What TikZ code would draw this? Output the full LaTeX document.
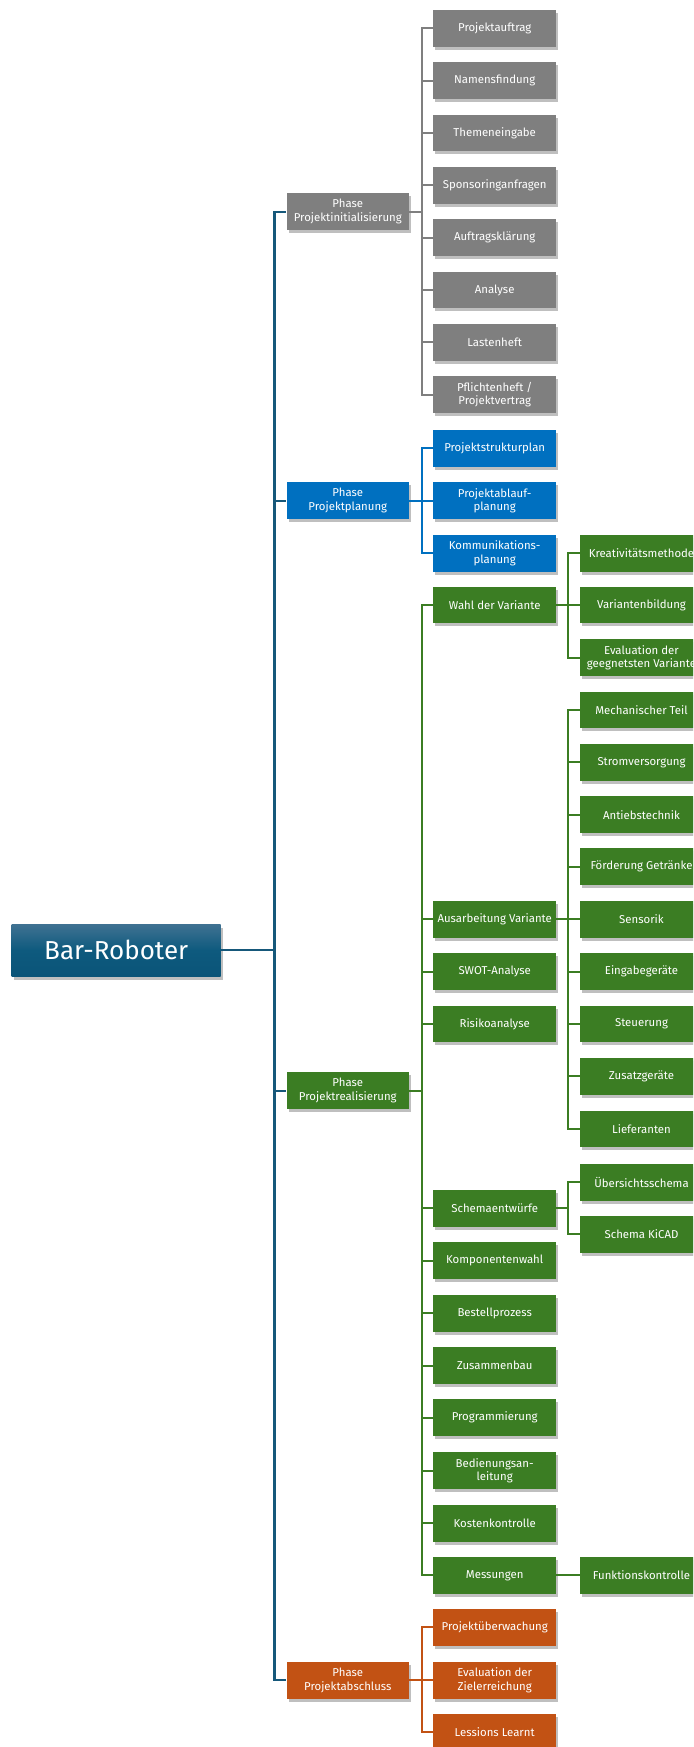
\documentclass[tikz,border=0pt]{standalone}
\usepackage{fontspec}
\setmainfont{Fira Sans}
\usetikzlibrary{shadows}

\definecolor{wbsroot}{RGB}{22,88,122}
\definecolor{wbsgray}{RGB}{127,127,127}
\definecolor{wbsblue}{RGB}{0,112,192}
\definecolor{wbsgreen}{RGB}{59,125,35}
\definecolor{wbsorange}{RGB}{194,82,20}

\begin{document}
\begin{tikzpicture}[x=1pt,y=1pt,yscale=-1,xscale=1,
  wbsbox/.style={rectangle, fill=#1, text=white, minimum width=122.5pt, minimum height=36.7pt,
    inner sep=1pt, align=center, font=\fontsize{11.4}{13.8}\selectfont,
    drop shadow={shadow xshift=2pt, shadow yshift=-3pt, opacity=0.25, fill=black}},
  wbscon/.style={draw=#1, line width=2.2pt}]
%set diagram area 693 x 1747
\path [use as bounding box] (0,0) rectangle (693,1747);
\clip (0,0) rectangle (693,1747);

% Root
\node [rectangle, top color={rgb,255:red,64;green,114;blue,146}, bottom color={rgb,255:red,10;green,84;blue,120},
  middle color={rgb,255:red,14;green,90;blue,126}, text=white, minimum width=209pt, minimum height=52pt,
  font=\fontsize{26}{30}\selectfont, drop shadow={shadow xshift=2.5pt, shadow yshift=-3.5pt, opacity=0.25, fill=black}]
  (root) at (116.2,950) {Bar-Roboter};

% Phases
\node [wbsbox=wbsgray] (pinit) at (347.8,211.7) {Phase\\Projektinitialisierung};
\node [wbsbox=wbsblue] (pplan) at (347.8,500.7) {Phase\\Projektplanung};
\node [wbsbox=wbsgreen] (preal) at (347.8,1090.7) {Phase\\Projektrealisierung};
\node [wbsbox=wbsorange] (pabsch) at (347.8,1680.3) {Phase\\Projektabschluss};

% Projektinitialisierung
\node [wbsbox=wbsgray] (auftrag) at (494.7,28.3) {Projektauftrag};
\node [wbsbox=wbsgray] (namen) at (494.7,80.7) {Namensfindung};
\node [wbsbox=wbsgray] (themen) at (494.7,133) {Themeneingabe};
\node [wbsbox=wbsgray] (sponsor) at (494.7,185.3) {Sponsoringanfragen};
\node [wbsbox=wbsgray] (klaerung) at (494.7,237.7) {Auftragsklärung};
\node [wbsbox=wbsgray] (analyse) at (494.7,290) {Analyse};
\node [wbsbox=wbsgray] (lasten) at (494.7,342.3) {Lastenheft};
\node [wbsbox=wbsgray] (pflichten) at (494.7,394.7) {Pflichtenheft /\\Projektvertrag};

% Projektplanung
\node [wbsbox=wbsblue] (psp) at (494.7,448.3) {Projektstrukturplan};
\node [wbsbox=wbsblue] (ablauf) at (494.7,500.7) {Projektablauf-\\planung};
\node [wbsbox=wbsblue] (kommun) at (494.7,553.3) {Kommunikations-\\planung};

% Projektrealisierung
\node [wbsbox=wbsgreen] (wahl) at (494.7,605) {Wahl der Variante};
\node [wbsbox=wbsgreen] (ausarb) at (494.7,919.3) {Ausarbeitung Variante};
\node [wbsbox=wbsgreen] (swot) at (494.7,971.7) {SWOT-Analyse};
\node [wbsbox=wbsgreen] (risiko) at (494.7,1024) {Risikoanalyse};
\node [wbsbox=wbsgreen] (schema) at (494.7,1208.3) {Schemaentwürfe};
\node [wbsbox=wbsgreen] (kompo) at (494.7,1260.7) {Komponentenwahl};
\node [wbsbox=wbsgreen] (bestell) at (494.7,1313.3) {Bestellprozess};
\node [wbsbox=wbsgreen] (zusammen) at (494.7,1365.7) {Zusammenbau};
\node [wbsbox=wbsgreen] (program) at (494.7,1417.7) {Programmierung};
\node [wbsbox=wbsgreen] (bedien) at (494.7,1470.7) {Bedienungsan-\\leitung};
\node [wbsbox=wbsgreen] (kosten) at (494.7,1523.3) {Kostenkontrolle};
\node [wbsbox=wbsgreen] (mess) at (494.7,1575.3) {Messungen};

% Third level
\node [wbsbox=wbsgreen] (kreativ) at (641.5,553.3) {Kreativitätsmethode};
\node [wbsbox=wbsgreen] (vbildung) at (641.5,605) {Variantenbildung};
\node [wbsbox=wbsgreen] (veval) at (641.5,657.7) {Evaluation der\\geegnetsten Variante};
\node [wbsbox=wbsgreen] (mech) at (641.5,710) {Mechanischer Teil};
\node [wbsbox=wbsgreen] (strom) at (641.5,762.3) {Stromversorgung};
\node [wbsbox=wbsgreen] (antrieb) at (641.5,814.7) {Antiebstechnik};
\node [wbsbox=wbsgreen] (foerder) at (641.5,866.7) {Förderung Getränke};
\node [wbsbox=wbsgreen] (sensor) at (641.5,919.3) {Sensorik};
\node [wbsbox=wbsgreen] (eingabe) at (641.5,971.7) {Eingabegeräte};
\node [wbsbox=wbsgreen] (steuer) at (641.5,1024) {Steuerung};
\node [wbsbox=wbsgreen] (zusatz) at (641.5,1076.3) {Zusatzgeräte};
\node [wbsbox=wbsgreen] (liefer) at (641.5,1129) {Lieferanten};
\node [wbsbox=wbsgreen] (uebersicht) at (641.5,1182.3) {Übersichtsschema};
\node [wbsbox=wbsgreen] (kicad) at (641.5,1234.3) {Schema KiCAD};
\node [wbsbox=wbsgreen] (funktion) at (641.5,1575.3) {Funktionskontrolle};

% Projektabschluss
\node [wbsbox=wbsorange] (ueberw) at (494.7,1627.3) {Projektüberwachung};
\node [wbsbox=wbsorange] (zielerr) at (494.7,1680.3) {Evaluation der\\Zielerreichung};
\node [wbsbox=wbsorange] (lessons) at (494.7,1732.3) {Lessions Learnt};

%Root lines
\draw [wbscon=wbsroot] (root.east) -- ++(53.6,0) |- (pinit.west);
\draw [wbscon=wbsroot] (root.east) -- ++(53.6,0) |- (pplan.west);
\draw [wbscon=wbsroot] (root.east) -- ++(53.6,0) |- (preal.west);
\draw [wbscon=wbsroot] (root.east) -- ++(53.6,0) |- (pabsch.west);

%Gray lines
\draw [wbscon=wbsgray] (pinit.east) -- ++(12.7,0) |- (auftrag.west);
\draw [wbscon=wbsgray] (pinit.east) -- ++(12.7,0) |- (namen.west);
\draw [wbscon=wbsgray] (pinit.east) -- ++(12.7,0) |- (themen.west);
\draw [wbscon=wbsgray] (pinit.east) -- ++(12.7,0) |- (sponsor.west);
\draw [wbscon=wbsgray] (pinit.east) -- ++(12.7,0) |- (klaerung.west);
\draw [wbscon=wbsgray] (pinit.east) -- ++(12.7,0) |- (analyse.west);
\draw [wbscon=wbsgray] (pinit.east) -- ++(12.7,0) |- (lasten.west);
\draw [wbscon=wbsgray] (pinit.east) -- ++(12.7,0) |- (pflichten.west);

%Blue lines
\draw [wbscon=wbsblue] (pplan.east) -- ++(12.7,0) |- (psp.west);
\draw [wbscon=wbsblue] (pplan.east) -- (ablauf.west);
\draw [wbscon=wbsblue] (pplan.east) -- ++(12.7,0) |- (kommun.west);

%Green lines
\draw [wbscon=wbsgreen] (preal.east) -- ++(12.7,0) |- (wahl.west);
\draw [wbscon=wbsgreen] (preal.east) -- ++(12.7,0) |- (ausarb.west);
\draw [wbscon=wbsgreen] (preal.east) -- ++(12.7,0) |- (swot.west);
\draw [wbscon=wbsgreen] (preal.east) -- ++(12.7,0) |- (risiko.west);
\draw [wbscon=wbsgreen] (preal.east) -- ++(12.7,0) |- (schema.west);
\draw [wbscon=wbsgreen] (preal.east) -- ++(12.7,0) |- (kompo.west);
\draw [wbscon=wbsgreen] (preal.east) -- ++(12.7,0) |- (bestell.west);
\draw [wbscon=wbsgreen] (preal.east) -- ++(12.7,0) |- (zusammen.west);
\draw [wbscon=wbsgreen] (preal.east) -- ++(12.7,0) |- (program.west);
\draw [wbscon=wbsgreen] (preal.east) -- ++(12.7,0) |- (bedien.west);
\draw [wbscon=wbsgreen] (preal.east) -- ++(12.7,0) |- (kosten.west);
\draw [wbscon=wbsgreen] (preal.east) -- ++(12.7,0) |- (mess.west);

\draw [wbscon=wbsgreen] (wahl.east) -- ++(11.7,0) |- (kreativ.west);
\draw [wbscon=wbsgreen] (wahl.east) -- (vbildung.west);
\draw [wbscon=wbsgreen] (wahl.east) -- ++(11.7,0) |- (veval.west);

\draw [wbscon=wbsgreen] (ausarb.east) -- ++(11.7,0) |- (mech.west);
\draw [wbscon=wbsgreen] (ausarb.east) -- ++(11.7,0) |- (strom.west);
\draw [wbscon=wbsgreen] (ausarb.east) -- ++(11.7,0) |- (antrieb.west);
\draw [wbscon=wbsgreen] (ausarb.east) -- ++(11.7,0) |- (foerder.west);
\draw [wbscon=wbsgreen] (ausarb.east) -- (sensor.west);
\draw [wbscon=wbsgreen] (ausarb.east) -- ++(11.7,0) |- (eingabe.west);
\draw [wbscon=wbsgreen] (ausarb.east) -- ++(11.7,0) |- (steuer.west);
\draw [wbscon=wbsgreen] (ausarb.east) -- ++(11.7,0) |- (zusatz.west);
\draw [wbscon=wbsgreen] (ausarb.east) -- ++(11.7,0) |- (liefer.west);

\draw [wbscon=wbsgreen] (schema.east) -- ++(11.7,0) |- (uebersicht.west);
\draw [wbscon=wbsgreen] (schema.east) -- ++(11.7,0) |- (kicad.west);

\draw [wbscon=wbsgreen] (mess.east) -- (funktion.west);

%Orange lines
\draw [wbscon=wbsorange] (pabsch.east) -- ++(12.7,0) |- (ueberw.west);
\draw [wbscon=wbsorange] (pabsch.east) -- (zielerr.west);
\draw [wbscon=wbsorange] (pabsch.east) -- ++(12.7,0) |- (lessons.west);

\end{tikzpicture}
\end{document}
